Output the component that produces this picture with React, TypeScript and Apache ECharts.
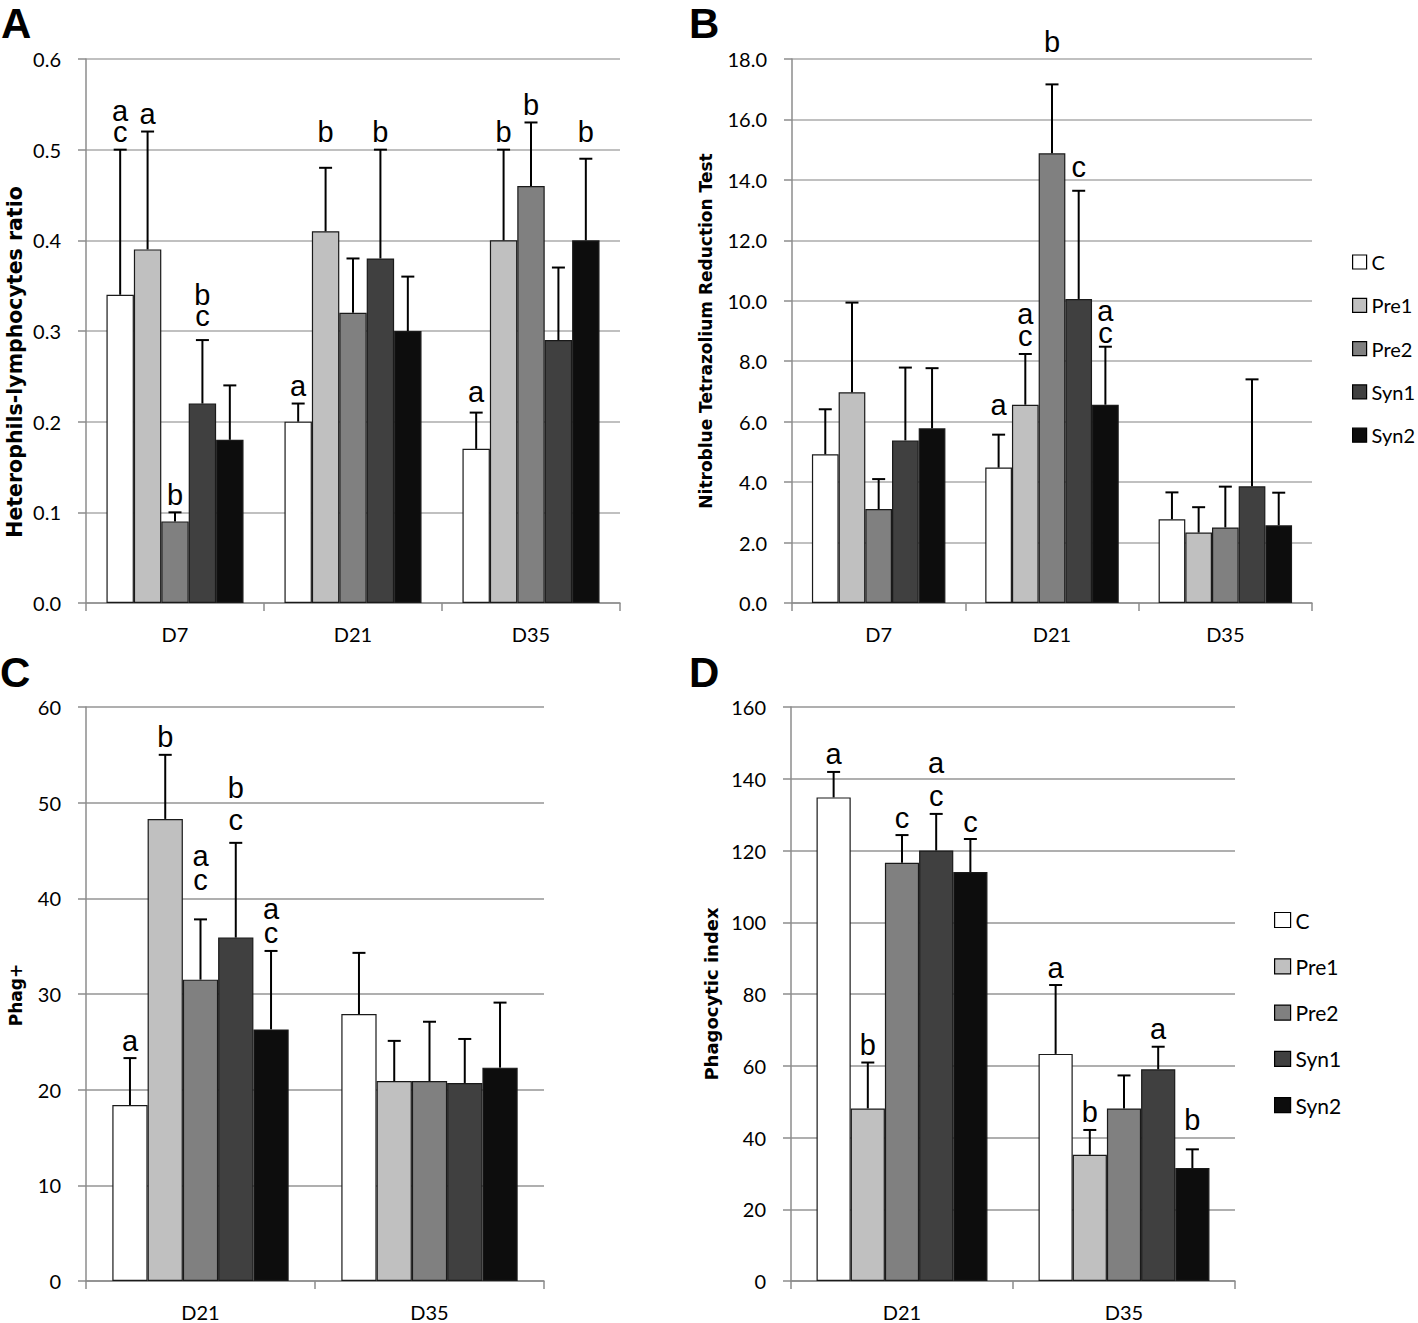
import React, { useEffect, useRef } from "react";
import * as echarts from "echarts";

// ---------- data ----------
const groups = ["C", "Pre1", "Pre2", "Syn1", "Syn2"];
const groupColors = ["#ffffff", "#c0c0c0", "#808080", "#404040", "#0d0d0d"];

const daysAB = ["D7", "D21", "D35"];
const daysCD = ["D21", "D35"];

// A: Heterophils-lymphocytes ratio (rows = groups, cols = days)
const hlMean = [
  [0.34, 0.2, 0.17],
  [0.39, 0.41, 0.4],
  [0.09, 0.32, 0.46],
  [0.22, 0.38, 0.29],
  [0.18, 0.3, 0.4],
];
const hlSd = [
  [0.16, 0.02, 0.04],
  [0.13, 0.07, 0.1],
  [0.01, 0.06, 0.07],
  [0.07, 0.12, 0.08],
  [0.06, 0.06, 0.09],
];
const hlLetters = [
  ["a\nc", "a", "a"],
  ["a", "b", "b"],
  ["b", "", "b"],
  ["b\nc", "b", ""],
  ["", "", "b"],
];

// B: Nitroblue Tetrazolium Reduction Test
const nbtMean = [
  [4.92, 4.48, 2.77],
  [6.97, 6.56, 2.33],
  [3.11, 14.88, 2.5],
  [5.38, 10.06, 3.86],
  [5.78, 6.56, 2.57],
];
const nbtSd = [
  [1.49, 1.09, 0.89],
  [2.97, 1.68, 0.84],
  [0.99, 2.28, 1.35],
  [2.41, 3.58, 3.54],
  [1.99, 1.92, 1.08],
];
const nbtLetters = [
  ["", "a", ""],
  ["", "a\nc", ""],
  ["", "b", ""],
  ["", "c", ""],
  ["", "a\nc", ""],
];

// C: Phag+
const phagMean = [
  [18.4, 27.9],
  [48.3, 20.9],
  [31.5, 20.9],
  [35.9, 20.7],
  [26.3, 22.3],
];
const phagSd = [
  [4.9, 6.4],
  [6.7, 4.2],
  [6.3, 6.2],
  [9.9, 4.6],
  [8.2, 6.8],
];
const phagLetters = [
  ["a", ""],
  ["b", ""],
  ["a\nc", ""],
  ["b\nc", ""],
  ["a\nc", ""],
];

// D: Phagocytic index
const piMean = [
  [134.8, 63.3],
  [48.1, 35.2],
  [116.6, 48.1],
  [120.0, 59.0],
  [114.0, 31.5],
];
const piSd = [
  [7.1, 19.2],
  [12.8, 6.9],
  [7.7, 9.2],
  [10.2, 6.3],
  [9.2, 5.2],
];
const piLetters = [
  ["a", "a"],
  ["b", "b"],
  ["c", ""],
  ["a\nc", "a"],
  ["c", "b"],
];

// ---------- layout / style ----------
const CAT_GAP = 0.23;
const letterLift: Record<string, number> = {
  "0-3-0": 7,
  "0-1-1": 18,
  "0-0-2": 3,
  "0-4-2": 9,
  "1-0-1": 12,
  "1-2-1": 25,
  "1-3-1": 6,
  "1-4-1": -4,
  "2-2-0": 22,
  "2-3-0": 5,
  "3-4-1": 12,
};
const letterSpacingSpecial: Record<string, number> = { "2-3-0": 32 };

const panels = [
  {
    mean: hlMean, sd: hlSd, letters: hlLetters, cats: daysAB,
    grid: { left: 86, top: 59, width: 534, height: 544 },
    min: 0, max: 0.6, interval: 0.1, decimals: 1,
    title: "Heterophils-lymphocytes ratio", titleX: 15, titleY: 362, titleSize: 20.5,
    gridColor: "#ababab", spacing: 21,
  },
  {
    mean: nbtMean, sd: nbtSd, letters: nbtLetters, cats: daysAB,
    grid: { left: 792, top: 59, width: 520, height: 544 },
    min: 0, max: 18, interval: 2, decimals: 1,
    title: "Nitroblue Tetrazolium Reduction Test", titleX: 706, titleY: 331, titleSize: 17,
    gridColor: "#ababab", spacing: 22,
  },
  {
    mean: phagMean, sd: phagSd, letters: phagLetters, cats: daysCD,
    grid: { left: 86, top: 707, width: 458, height: 574 },
    min: 0, max: 60, interval: 10, decimals: 0,
    title: "Phag+", titleX: 16, titleY: 995, titleSize: 17,
    gridColor: "#949494", spacing: 24,
  },
  {
    mean: piMean, sd: piSd, letters: piLetters, cats: daysCD,
    grid: { left: 791, top: 707, width: 444, height: 574 },
    min: 0, max: 160, interval: 20, decimals: 0,
    title: "Phagocytic index", titleX: 711, titleY: 994, titleSize: 18,
    gridColor: "#949494", spacing: 33,
  },
];

const axisGray = "#8c8c8c";
const tickFont = "Lato";

function buildOption() {
  const grid: any[] = [];
  const xAxis: any[] = [];
  const yAxis: any[] = [];
  const series: any[] = [];
  const graphic: any[] = [];

  panels.forEach((p, pi) => {
    grid.push({ ...p.grid, containLabel: false });
    xAxis.push({
      type: "category",
      gridIndex: pi,
      data: p.cats,
      axisLine: { show: true, lineStyle: { color: axisGray, width: 1.5 } },
      axisTick: { show: true, length: 8, lineStyle: { color: axisGray, width: 1.5 } },
      axisLabel: { fontFamily: tickFont, fontSize: 20, color: "#000", margin: 21 },
      splitLine: { show: false },
    });
    yAxis.push({
      type: "value",
      gridIndex: pi,
      min: p.min,
      max: p.max,
      interval: p.interval,
      axisLine: { show: true, lineStyle: { color: axisGray, width: 1.5 } },
      axisTick: { show: true, length: 8, lineStyle: { color: axisGray, width: 1.5 } },
      axisLabel: {
        fontFamily: tickFont,
        fontSize: 20,
        color: "#000",
        margin: 25,
        formatter: (v: number) => v.toFixed(p.decimals),
      },
      splitLine: { show: true, lineStyle: { color: p.gridColor, width: 1.5 } },
    });

    groups.forEach((g, gi) => {
      series.push({
        type: "bar",
        name: g,
        xAxisIndex: pi,
        yAxisIndex: pi,
        data: p.mean[gi],
        barGap: "0%",
        barCategoryGap: CAT_GAP * 100 + "%",
        itemStyle: { color: groupColors[gi], borderColor: "#1a1a1a", borderWidth: 1.2 },
        emphasis: { disabled: true },
        silent: true,
      });
    });

    const items: any[] = [];
    groups.forEach((g, gi) => {
      p.cats.forEach((c, ci) => {
        items.push({
          g: gi,
          cat: ci,
          mean: p.mean[gi][ci],
          sd: p.sd[gi][ci],
          letters: p.letters[gi][ci],
          key: `${pi}-${gi}-${ci}`,
        });
      });
    });

    series.push({
      type: "custom",
      xAxisIndex: pi,
      yAxisIndex: pi,
      clip: false,
      silent: true,
      z: 5,
      data: items.map((it) => [it.cat, it.mean + it.sd]),
      encode: { x: 0, y: 1 },
      renderItem: (params: any, api: any) => {
        const it = items[params.dataIndex];
        const band = api.size([1, 0])[0];
        const bw = (band * (1 - CAT_GAP)) / 5;
        const base = api.coord([it.cat, it.mean]);
        const top = api.coord([it.cat, it.mean + it.sd]);
        const x = base[0] + (it.g - 2) * bw;
        const children: any[] = [
          { type: "line", shape: { x1: x, y1: base[1], x2: x, y2: top[1] }, style: { stroke: "#000", lineWidth: 2 } },
          { type: "line", shape: { x1: x - 6.5, y1: top[1], x2: x + 6.5, y2: top[1] }, style: { stroke: "#000", lineWidth: 2 } },
        ];
        if (it.letters) {
          const lift = letterLift[it.key] || 0;
          const spacing = letterSpacingSpecial[it.key] || p.spacing;
          const nLines = it.letters.split("\n").length;
          const extra = nLines > 1 ? (spacing - 29) / 2 : 0;
          children.push({
            type: "text",
            style: {
              text: it.letters,
              x,
              y: top[1] - 3 - lift + extra,
              align: "center",
              verticalAlign: "bottom",
              fontSize: 29,
              lineHeight: nLines > 1 ? spacing : 29,
              fontFamily: "Liberation Sans",
              fill: "#000",
            },
          });
        }
        return { type: "group", children };
      },
    });

    graphic.push({
      type: "text",
      x: p.titleX,
      y: p.titleY,
      rotation: Math.PI / 2,
      style: {
        text: p.title,
        align: "center",
        verticalAlign: "middle",
        fontSize: p.titleSize,
        fontWeight: "bold",
        fontFamily: "DejaVu Sans",
        fill: "#000",
      },
    });
  });

  const panelLetters = [
    { t: "A", x: 1, y: 2 },
    { t: "B", x: 689, y: 2 },
    { t: "C", x: 0, y: 651 },
    { t: "D", x: 689, y: 651 },
  ];
  panelLetters.forEach((l) => {
    graphic.push({
      type: "text",
      x: l.x,
      y: l.y,
      style: {
        text: l.t,
        align: "left",
        verticalAlign: "top",
        fontSize: 42,
        fontWeight: "bold",
        fontFamily: "Liberation Sans",
        fill: "#000",
      },
    });
  });

  const legendData = groups.map((g, gi) => ({
    name: g,
    itemStyle: { color: groupColors[gi], borderColor: "#000", borderWidth: 1.2 },
  }));

  return {
    animation: false,
    backgroundColor: "#ffffff",
    grid,
    xAxis,
    yAxis,
    series,
    graphic,
    legend: [
      {
        orient: "vertical",
        left: 1352,
        top: 252,
        padding: 0,
        itemWidth: 14,
        itemHeight: 14,
        itemGap: 23.3,
        icon: "rect",
        selectedMode: false,
        textStyle: { fontFamily: "Lato", fontSize: 20, color: "#000", lineHeight: 20 },
        data: legendData,
      },
      {
        orient: "vertical",
        left: 1274,
        top: 909,
        padding: 0,
        itemWidth: 16,
        itemHeight: 15,
        itemGap: 24.3,
        icon: "rect",
        selectedMode: false,
        textStyle: { fontFamily: "Lato", fontSize: 21, color: "#000", lineHeight: 22 },
        data: legendData,
      },
    ],
  };
}

export default function App() {
  const ref = useRef<HTMLDivElement>(null);
  useEffect(() => {
    if (!ref.current) return;
    const chart = echarts.init(ref.current, undefined, { renderer: "svg" });
    chart.setOption(buildOption() as any);
    return () => chart.dispose();
  }, []);
  return (
    <div
      ref={ref}
      style={{ position: "absolute", left: 0, top: 0, width: 1418, height: 1323 }}
    />
  );
}
